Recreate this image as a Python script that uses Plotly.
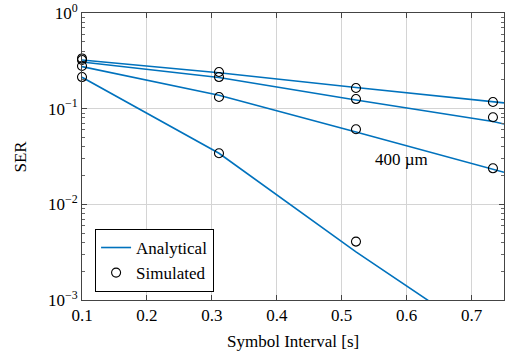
import plotly.graph_objects as go

# Analytical curves
x_analytical = [0.1, 0.311, 0.522, 0.733, 0.75]
an_1 = [0.323, 0.237, 0.1666, 0.1175, 0.115]
an_2 = [0.308, 0.212, 0.123, 0.0735, 0.069]
an_3 = [0.275, 0.138, 0.0571, 0.0234, 0.0216]
an_4 = [0.213, 0.0342, 0.00318, 3.4e-4, 2.9e-4]

# Simulated points
x_sim = [0.1, 0.311, 0.522, 0.733]
sim_1 = [0.335, 0.242, 0.1645, 0.1175]
sim_2 = [0.323, 0.214, 0.126, 0.0813]
sim_3 = [0.279, 0.1325, 0.061, 0.0238]
sim_4 = [0.214, 0.0342, 0.00408, None]

x_ticks = [0.1, 0.2, 0.3, 0.4, 0.5, 0.6, 0.7]
y_ticks = [1e-3, 1e-2, 1e-1, 1]
y_tick_text = ["10<sup>−3</sup>", "10<sup>−2</sup>", "10<sup>−1</sup>", "10<sup>0</sup>"]

FONT = "Liberation Serif, Times New Roman, serif"
FS = 17
BLUE = "#0072BD"

fig = go.Figure()
for i, ys in enumerate([an_1, an_2, an_3, an_4]):
    fig.add_trace(go.Scatter(
        x=x_analytical, y=ys, mode="lines", name="Analytical",
        line=dict(color=BLUE, width=1.6), legendgroup="an",
        showlegend=(i == 0), cliponaxis=True))
for i, ys in enumerate([sim_1, sim_2, sim_3, sim_4]):
    fig.add_trace(go.Scatter(
        x=x_sim, y=ys, mode="markers", name="Simulated",
        marker=dict(symbol="circle-open", size=9, color="black", line=dict(width=1.1)),
        legendgroup="sim", showlegend=(i == 0), cliponaxis=False))

minor_vals = [m * 10 ** e for e in (-3, -2, -1) for m in range(2, 10)]
tickfont = dict(family=FONT, size=FS, color="black")

fig.update_layout(
    width=505, height=356,
    margin=dict(l=82, r=1, t=13, b=56, autoexpand=False),
    paper_bgcolor="white", plot_bgcolor="white",
    font=dict(family=FONT, size=FS, color="black"),
    showlegend=True,
    legend=dict(x=0.031, y=0.028, xanchor="left", yanchor="bottom",
                bordercolor="black", borderwidth=1, bgcolor="white",
                font=dict(family=FONT, size=FS), tracegroupgap=0),
    xaxis=dict(
        range=[0.1, 0.75], tickvals=x_ticks, ticktext=[str(v) for v in x_ticks],
        ticks="inside", ticklen=5, tickcolor="#444", automargin=False,
        tickfont=tickfont,
        showline=True, linecolor="#444", linewidth=1, mirror="ticks",
        showgrid=True, gridcolor="#d4d4d4", gridwidth=1, zeroline=False,
    ),
    yaxis=dict(
        type="log", range=[-3, 0], tickvals=y_ticks, ticktext=y_tick_text,
        ticks="inside", ticklen=5, tickcolor="#444", automargin=False,
        tickfont=tickfont,
        showline=True, linecolor="#444", linewidth=1, mirror="ticks",
        showgrid=True, gridcolor="#d4d4d4", gridwidth=1, zeroline=False,
        minor=dict(tickvals=minor_vals, ticks="inside", ticklen=3, tickcolor="#666", showgrid=False),
    ),
)

fig.add_annotation(x=0.5, y=0, xref="paper", yref="paper", yshift=-41,
                   text="Symbol Interval [s]", showarrow=False,
                   yanchor="middle", xanchor="center", font=dict(family=FONT, size=FS))
fig.add_annotation(x=0, y=0.5, xref="paper", yref="paper", xshift=-62,
                   text="SER", showarrow=False, textangle=-90,
                   yanchor="middle", xanchor="center", font=dict(family=FONT, size=FS))
fig.add_annotation(x=0.592, y=-1.529, xref="x", yref="y", text="400 µm",
                   showarrow=False, font=dict(family=FONT, size=FS))

fig.write_html("out.html", config={"displayModeBar": False},
               post_script="document.body.style.margin='0';")
